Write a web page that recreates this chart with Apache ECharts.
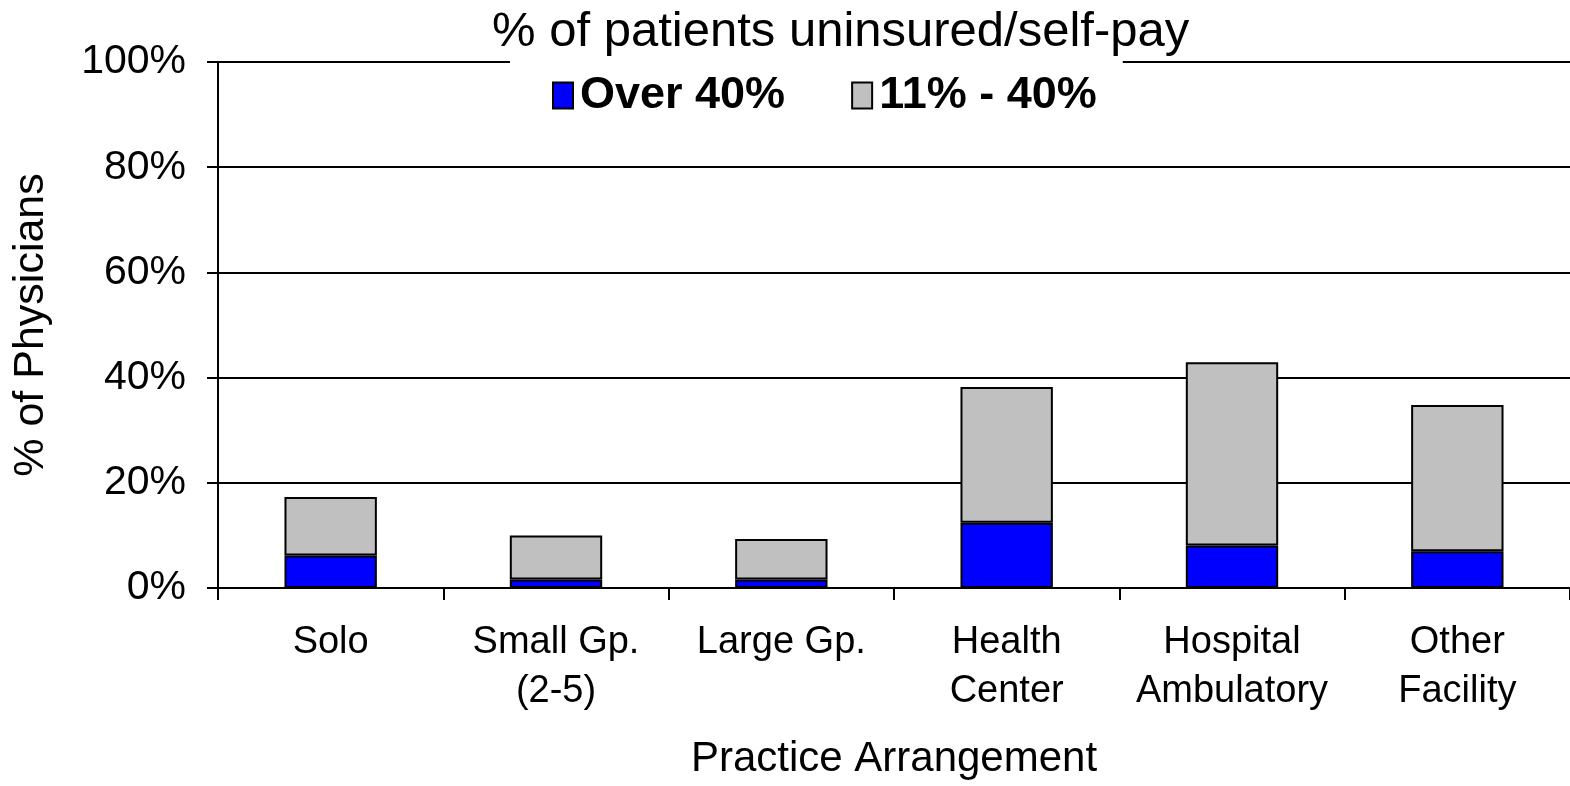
<!DOCTYPE html>
<html>
<head>
<meta charset="utf-8">
<script src="https://cdn.jsdelivr.net/npm/echarts@6/dist/echarts.min.js"></script>
<style>
  html, body { margin: 0; padding: 0; background: #fff; }
  #chart { width: 1570px; height: 786px; }
</style>
</head>
<body>
<div id="chart"></div>
<script>
var categories = ['Solo', 'Small Gp.\n(2-5)', 'Large Gp.', 'Health\nCenter', 'Hospital\nAmbulatory', 'Other\nFacility'];
var over40 = [6.2, 1.6, 1.6, 12.4, 8.1, 7.0];
var mid11to40 = [11.1, 8.4, 7.7, 25.8, 34.8, 27.8];

var myChart = echarts.init(document.getElementById('chart'));
var font = 'Liberation Sans, Arial, sans-serif';

var option = {
    animation: false,
    backgroundColor: '#fff',
    title: {
        text: '% of patients uninsured/self-pay',
        left: 487,
        top: 3,
        textStyle: { fontFamily: font, fontSize: 49, fontWeight: 'normal', color: '#000' }
    },
    legend: {
        left: 510,
        top: 58,
        padding: [15, 26, 6, 42],
        backgroundColor: '#fff',
        itemWidth: 20,
        itemHeight: 26,
        itemGap: 66,
        icon: 'rect',
        textStyle: { fontFamily: font, fontSize: 45, fontWeight: 'bold', color: '#000', padding: [0, 0, 0, 2] },
        data: ['Over 40%', '11% - 40%']
    },
    grid: { left: 218, right: 0, top: 62, bottom: 198 },
    xAxis: {
        type: 'category',
        data: categories,
        name: 'Practice Arrangement',
        nameLocation: 'middle',
        nameGap: 150,
        nameTextStyle: { fontFamily: font, fontSize: 42, color: '#000' },
        axisLine: { lineStyle: { color: '#000', width: 2 } },
        axisTick: { show: true, interval: 0, alignWithLabel: false, length: 12, lineStyle: { color: '#000', width: 2 } },
        axisLabel: { interval: 0, fontFamily: font, fontSize: 38, color: '#000', lineHeight: 49, margin: 30 }
    },
    yAxis: {
        type: 'value',
        min: 0,
        max: 100,
        interval: 20,
        name: '% of Physicians',
        nameLocation: 'middle',
        nameGap: 165,
        nameTextStyle: { fontFamily: font, fontSize: 43, color: '#000' },
        axisLine: { show: true, lineStyle: { color: '#000', width: 2 } },
        axisTick: { show: true, length: 11, lineStyle: { color: '#000', width: 2 } },
        axisLabel: { fontFamily: font, fontSize: 41, color: '#000', margin: 32, formatter: '{value}%' },
        splitLine: { lineStyle: { color: '#000', width: 2 } }
    },
    series: [
        {
            name: 'Over 40%',
            type: 'bar',
            stack: 'total',
            barWidth: '41%',
            data: over40,
            itemStyle: { color: '#0000ff', borderColor: '#000', borderWidth: 2 }
        },
        {
            name: '11% - 40%',
            type: 'bar',
            stack: 'total',
            barWidth: '41%',
            data: mid11to40,
            itemStyle: { color: '#c0c0c0', borderColor: '#000', borderWidth: 2 }
        }
    ]
};

myChart.setOption(option);
</script>
</body>
</html>
